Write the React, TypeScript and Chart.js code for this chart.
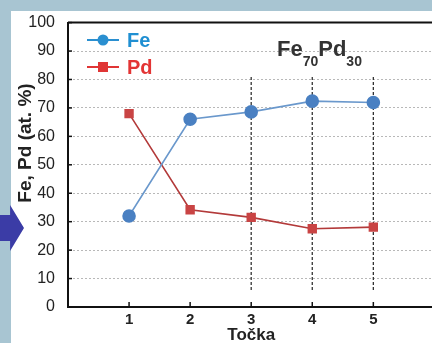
import React, { useEffect, useRef } from "react";
import { Chart, registerables } from "chart.js";

Chart.register(...registerables);

const points = [1, 2, 3, 4, 5];
const feValues = [32, 66, 68.6, 72.4, 71.9];
const pdValues = [68, 34.2, 31.5, 27.5, 28.1];
const dashX = [3, 4, 5];
const dashTop = 81;
const dashBottom = 6;
const yTicks = [0, 10, 20, 30, 40, 50, 60, 70, 80, 90, 100];

const FONT = "'Liberation Sans', Arial, sans-serif";
const FE_COLOR = "#4a80c2";
const FE_LINE = "#6a98cc";
const PD_COLOR = "#c94444";
const PD_LINE = "#b33a3a";

const overlay = {
  id: "overlay",
  afterDraw(chart: any) {
    const { ctx, chartArea, scales } = chart;
    ctx.save();
    // top border
    ctx.strokeStyle = "#111";
    ctx.lineWidth = 2;
    ctx.beginPath();
    ctx.moveTo(chartArea.left, chartArea.top);
    ctx.lineTo(chartArea.right, chartArea.top);
    ctx.stroke();
    // inward x ticks
    ctx.lineWidth = 1.5;
    points.forEach((p) => {
      const x = scales.x.getPixelForValue(p);
      ctx.beginPath();
      ctx.moveTo(x, chartArea.bottom);
      ctx.lineTo(x, chartArea.bottom - 5);
      ctx.stroke();
    });
    // inward y ticks
    yTicks.forEach((v) => {
      const y = scales.y.getPixelForValue(v);
      ctx.beginPath();
      ctx.moveTo(chartArea.left, y);
      ctx.lineTo(chartArea.left + 4, y);
      ctx.stroke();
    });
    // y title
    ctx.save();
    ctx.translate(26, 143);
    ctx.rotate(-Math.PI / 2);
    ctx.fillStyle = "#222";
    ctx.font = `bold 19px ${FONT}`;
    ctx.textAlign = "center";
    ctx.textBaseline = "middle";
    ctx.fillText("Fe, Pd (at. %)", 0, 0);
    ctx.restore();
    // legend
    const items = [
      { label: "Fe", text: "#1f8fd2", line: "#2a8fd0", style: "circle" },
      { label: "Pd", text: "#e33434", line: "#e03535", style: "rect" },
    ];
    items.forEach((it, i) => {
      const y = 40 + i * 27;
      ctx.strokeStyle = it.line;
      ctx.lineWidth = 2;
      ctx.beginPath();
      ctx.moveTo(87, y);
      ctx.lineTo(119, y);
      ctx.stroke();
      ctx.fillStyle = it.line;
      if (it.style === "circle") {
        ctx.beginPath();
        ctx.arc(103, y, 5.5, 0, Math.PI * 2);
        ctx.fill();
      } else {
        ctx.fillRect(98, y - 5, 10, 10);
      }
      ctx.fillStyle = it.text;
      ctx.font = `bold 20px ${FONT}`;
      ctx.textBaseline = "middle";
      ctx.textAlign = "left";
      ctx.fillText(it.label, 127, y + 1);
    });
    // title Fe70Pd30
    ctx.fillStyle = "#333";
    ctx.textBaseline = "alphabetic";
    ctx.textAlign = "left";
    let x = 277;
    const parts: [string, boolean][] = [["Fe", false], ["70", true], ["Pd", false], ["30", true]];
    parts.forEach(([t, sub]) => {
      ctx.font = sub ? `bold 14px ${FONT}` : `bold 22px ${FONT}`;
      ctx.fillText(t, x, sub ? 66 : 56);
      x += ctx.measureText(t).width;
    });
    ctx.restore();
  },
};

export default function App() {
  const ref = useRef<HTMLCanvasElement>(null);
  useEffect(() => {
    if (!ref.current) return;
    const dashSets = dashX.map((dx) => ({
      label: "dash" + dx,
      data: [
        { x: dx, y: dashBottom },
        { x: dx, y: dashTop },
      ],
      borderColor: "#333",
      borderWidth: 1.3,
      borderDash: [3, 2],
      pointRadius: 0,
      fill: false,
    }));
    const chart = new Chart(ref.current, {
      type: "line",
      data: {
        datasets: [
          {
            label: "Fe",
            data: points.map((p, i) => ({ x: p, y: feValues[i] })),
            borderColor: FE_LINE,
            backgroundColor: FE_COLOR,
            pointBackgroundColor: FE_COLOR,
            pointBorderColor: FE_COLOR,
            borderWidth: 1.6,
            pointRadius: 6,
            pointStyle: "circle",
          },
          {
            label: "Pd",
            data: points.map((p, i) => ({ x: p, y: pdValues[i] })),
            borderColor: PD_LINE,
            backgroundColor: PD_COLOR,
            pointBackgroundColor: PD_COLOR,
            pointBorderColor: PD_COLOR,
            borderWidth: 1.6,
            pointRadius: 5.5,
            pointStyle: "rect",
          },
          ...dashSets,
        ] as any,
      },
      options: {
        responsive: false,
        animation: false,
        layout: { padding: { top: 21, right: 4, left: 0, bottom: 0 } },
        plugins: { legend: { display: false }, tooltip: { enabled: false } },
        scales: {
          x: {
            type: "linear",
            min: 0,
            max: 6,
            afterFit: (s: any) => {
              s.height = 41;
            },
            grid: { display: false, drawTicks: false },
            border: { display: true, color: "#111", width: 2 },
            ticks: {
              stepSize: 1,
              padding: 4,
              color: "#222",
              font: { family: FONT, size: 15, weight: "bold" },
              callback: (v: any) => (points.includes(v) ? String(v) : ""),
            },
            title: {
              display: true,
              text: "Točka",
              color: "#222",
              font: { family: FONT, size: 17, weight: "bold" },
              padding: { top: 0, bottom: 2 },
            },
          },
          y: {
            min: 0,
            max: 100,
            afterFit: (s: any) => {
              s.width = 68;
            },
            afterBuildTicks: (s: any) => {
              s.ticks = yTicks.map((v) => ({ value: v }));
            },
            grid: {
              color: "#b8b8b8",
              lineWidth: 1,
              drawTicks: false,
            },
            border: { display: true, color: "#111", width: 2, dash: [2, 2] },
            ticks: {
              padding: 13,
              color: "#222",
              font: { family: FONT, size: 16 },
            },
            title: { display: false },
          },
        },
      },
      plugins: [overlay],
    } as any);
    return () => chart.destroy();
  }, []);

  return (
    <div
      style={{
        position: "fixed",
        left: 0,
        top: 0,
        width: 432,
        height: 343,
        overflow: "hidden",
        background: "#a8c5d2",
      }}
    >
      <div
        style={{
          position: "absolute",
          left: 11,
          top: 11,
          width: 460,
          height: 360,
          background: "#fff",
        }}
      />
      <canvas
        ref={ref}
        width={442}
        height={348}
        style={{ position: "absolute", left: 0, top: 0, width: 442, height: 348 }}
      />
      <div
        style={{
          position: "absolute",
          left: 0,
          top: 205,
          width: 24,
          height: 46,
          background: "#3b3ca6",
          clipPath: "polygon(0 22%, 42% 22%, 42% 0, 100% 50%, 42% 100%, 42% 78%, 0 78%)",
        }}
      />
    </div>
  );
}
